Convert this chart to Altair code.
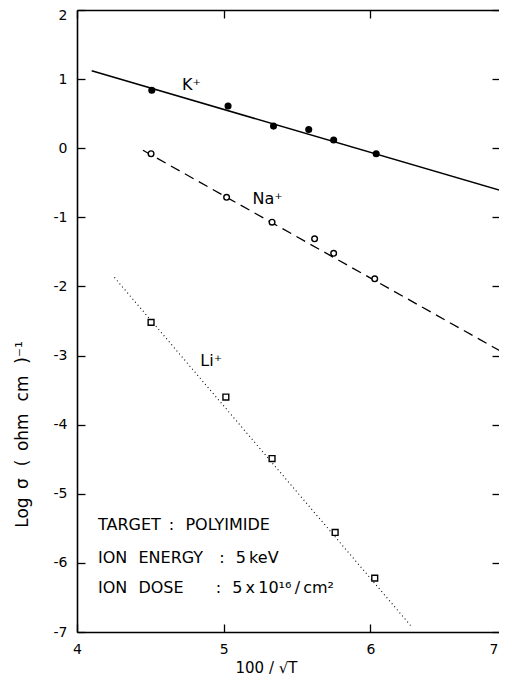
import altair as alt
import pandas as pd

# ---- data ----
k_x = [4.51, 5.03, 5.34, 5.58, 5.75, 6.04]
k_y = [0.84, 0.61, 0.32, 0.27, 0.12, -0.08]
na_x = [4.505, 5.02, 5.33, 5.62, 5.75, 6.03]
na_y = [-0.08, -0.71, -1.07, -1.31, -1.52, -1.89]
li_x = [4.505, 5.015, 5.33, 5.76, 6.03]
li_y = [-2.52, -3.60, -4.49, -5.56, -6.22]

k_fit_x = [4.10, 7.0]
k_fit_y = [1.12, -0.68]
na_fit_x = [4.45, 7.0]
na_fit_y = [-0.03, -3.07]
li_fit_x = [4.255, 6.28]
li_fit_y = [-1.87, -6.92]

ion_labels = ["K⁺", "Na⁺", "Li⁺"]
ion_label_x = [4.78, 5.30, 4.915]
ion_label_y = [0.92, -0.74, -3.08]

notes = ["TARGET\u2002:\u2002\u2009POLYIMIDE",
         "ION\u2002\u2009ENERGY\u2003:\u2002\u20095\u2009keV",
         "ION\u2002\u2009DOSE\u2003\u2003:\u2002\u20095\u2009x\u200910¹⁶\u2009/\u2009cm²"]
note_x = [4.143, 4.143, 4.143]
note_y = [-5.45, -5.93, -6.37]

x_ticks = [4, 5, 6, 7]
y_ticks = [-7, -6, -5, -4, -3, -2, -1, 0, 1, 2]

FONT = "DejaVu Sans"

xs = alt.Scale(domain=[4, 7], nice=False, zero=False)
ys = alt.Scale(domain=[-7, 2], nice=False, zero=False)

# inward ticks (axes pulled into the plot by their own tick length)
ax_bottom = alt.Axis(orient="bottom", values=x_ticks, tickSize=8, offset=-8, domain=False,
                     grid=False, labelPadding=10, labelFontSize=14, labelExpr="'' + datum.value",
                     labelAlign={"condition": {"test": "datum.value == 7", "value": "right"},
                                 "value": "center"},
                     labelOffset={"condition": {"test": "datum.value == 7", "value": -19},
                                  "value": 0},
                     title="100 / √T", titleX=189, titleY=48, titleAlign="center",
                     titleBaseline="alphabetic", titleFontSize=15, titleFontWeight="normal")
ax_left = alt.Axis(orient="left", values=y_ticks, tickSize=8, offset=-8, domain=False,
                   grid=False, labelPadding=10, labelFontSize=14, labelExpr="'' + datum.value",
                   labelOffset={"condition": {"test": "datum.value == 2", "value": 5},
                                "value": 0},
                   title="Log\u2002σ\u2002\u2009(\u2002ohm\u2002\u2009cm\u2002\u2009)⁻¹",
                   titleAngle=270, titleX=-63, titleY=424, titleAlign="center",
                   titleBaseline="middle", titleFontSize=17, titleFontWeight="normal")
ax_top = alt.Axis(orient="top", values=x_ticks, tickSize=8, offset=-8, domain=False,
                  grid=False, labels=False, title=None)
ax_right = alt.Axis(orient="right", values=y_ticks, tickSize=8, offset=-25, domain=False,
                    grid=False, labels=False, title=None)
# frame lines
fr_bottom = alt.Axis(orient="bottom", domain=True, ticks=False, labels=False, grid=False,
                     title=None, domainWidth=1.6, domainColor="black")
fr_left = alt.Axis(orient="left", domain=True, ticks=False, labels=False, grid=False,
                   title=None, domainWidth=1.6, domainColor="black")
fr_top = alt.Axis(orient="top", domain=True, ticks=False, labels=False, grid=False,
                  title=None, domainWidth=1.6, domainColor="black")

k_df = pd.DataFrame({"x": k_x, "y": k_y})
na_df = pd.DataFrame({"x": na_x, "y": na_y})
li_df = pd.DataFrame({"x": li_x, "y": li_y})
k_fit = pd.DataFrame({"x": k_fit_x, "y": k_fit_y})
na_fit = pd.DataFrame({"x": na_fit_x, "y": na_fit_y})
li_fit = pd.DataFrame({"x": li_fit_x, "y": li_fit_y})
lab_df = pd.DataFrame({"x": ion_label_x, "y": ion_label_y, "t": ion_labels})
note_df = pd.DataFrame({"x": note_x, "y": note_y, "t": notes})


def enc(ch, xa=None, ya=None, **kw):
    return ch.encode(
        x=alt.X("x:Q", scale=xs, axis=xa),
        y=alt.Y("y:Q", scale=ys, axis=ya),
        **kw,
    )


k_line = enc(alt.Chart(k_fit).mark_line(color="black", strokeWidth=1.5), ax_bottom, ax_left)
k_pts = enc(alt.Chart(k_df).mark_point(shape="circle", filled=True, color="black", size=50,
                                       opacity=1), ax_top, ax_right)
na_line = enc(alt.Chart(na_fit).mark_line(color="black", strokeWidth=1.3, strokeDash=[10, 6]),
              fr_bottom, fr_left)
na_pts = enc(alt.Chart(na_df).mark_point(shape="circle", filled=True, fill="white", stroke="black",
                                          strokeWidth=1.4, size=32, opacity=1), fr_top, None)
li_line = enc(alt.Chart(li_fit).mark_line(color="black", strokeWidth=1.1, strokeDash=[1, 3]))
li_pts = enc(alt.Chart(li_df).mark_point(shape="square", filled=True, fill="white", stroke="black",
                                          strokeWidth=1.4, size=34, opacity=1))
labels = enc(alt.Chart(lab_df).mark_text(font=FONT, fontSize=16, color="black", align="center",
                                         baseline="middle"), text="t:N")
note_txt = enc(alt.Chart(note_df).mark_text(font=FONT, fontSize=16, color="black", align="left",
                                            baseline="middle"), text="t:N")

chart = alt.layer(k_line, k_pts, na_line, na_pts, li_line, li_pts, labels, note_txt).resolve_axis(
    x="independent", y="independent"
).properties(
    width=440, height=622,
    padding={"left": 69, "top": 2, "right": -18, "bottom": 44},
    autosize=alt.AutoSizeParams(type="none"),
    background="white",
).configure_view(strokeWidth=0).configure_axis(
    labelFont=FONT, titleFont=FONT, labelColor="black", titleColor="black", tickColor="black",
    tickWidth=1.3
)

chart.save("out.html", embed_options={"renderer": "svg", "actions": False})
